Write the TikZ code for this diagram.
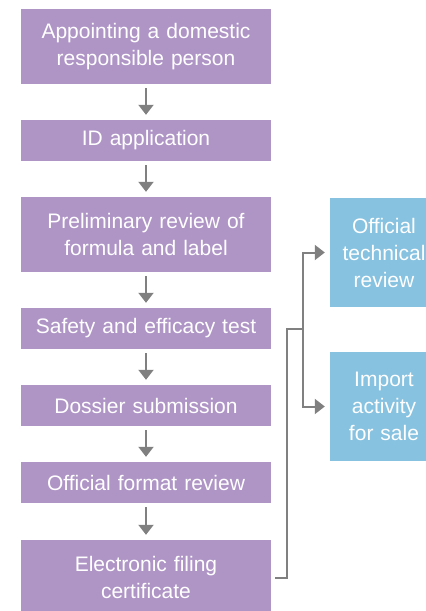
\documentclass[tikz,border=0pt]{standalone}
\usepackage{fontspec}
\setmainfont{Liberation Sans}
\usetikzlibrary{arrows.meta,positioning}
\definecolor{stagepurple}{RGB}{175,149,198}
\definecolor{outcomeblue}{RGB}{135,194,224}
\definecolor{linegray}{RGB}{128,128,128}
\begin{document}
\begin{tikzpicture}[x=1pt,y=-1pt,
  stage/.style = {rectangle,fill=stagepurple,text=white,minimum width=250pt,text width=240pt,align=center,inner sep=0pt,font=\fontsize{21}{27}\selectfont},
  outcome/.style = {rectangle,fill=outcomeblue,text=white,minimum width=108pt,minimum height=109pt,text width=104pt,align=center,inner sep=0pt,font=\fontsize{21}{27}\selectfont},
  link/.style = {draw=linegray,line width=2pt},
  flow/.style = {link,-{Triangle[length=10pt,width=15pt]}}]
\useasboundingbox (0,0) rectangle (426,611);
% left column
\node[stage,minimum height=75pt] (s1) at (146,46.5) {Appointing a domestic\\responsible person};
\node[stage,minimum height=41pt] (s2) at (146,140.5) {ID application};
\node[stage,minimum height=75pt] (s3) at (146,234.5) {Preliminary review of\\formula and label};
\node[stage,minimum height=41pt] (s4) at (146,328.5) {Safety and efficacy test};
\node[stage,minimum height=41pt] (s5) at (146,405.5) {Dossier submission};
\node[stage,minimum height=41pt] (s6) at (146,482.5) {Official format review};
\node[stage,minimum height=75pt] (s7) at (146,577.5) {Electronic filing\\certificate};
% right column
\node[outcome] (o1) at (384,252.5) {Official\\technical\\review};
\node[outcome] (o2) at (384,406.5) {Import\\activity\\for sale};
\foreach \a/\b in {s1/s2,s2/s3,s3/s4,s4/s5,s5/s6,s6/s7}
  \draw[flow] ([yshift=-4pt]\a.south) -- ([yshift=5pt]\b.north);
\coordinate (bend) at (287,329);
\coordinate (split) at (303,329);
\draw[link] ([xshift=4pt]s7.east) -| (bend) -- (split);
\draw[flow] (split) |- ([xshift=-5pt]o1.west);
\draw[flow] (split) |- ([xshift=-5pt]o2.west);
\end{tikzpicture}
\end{document}
